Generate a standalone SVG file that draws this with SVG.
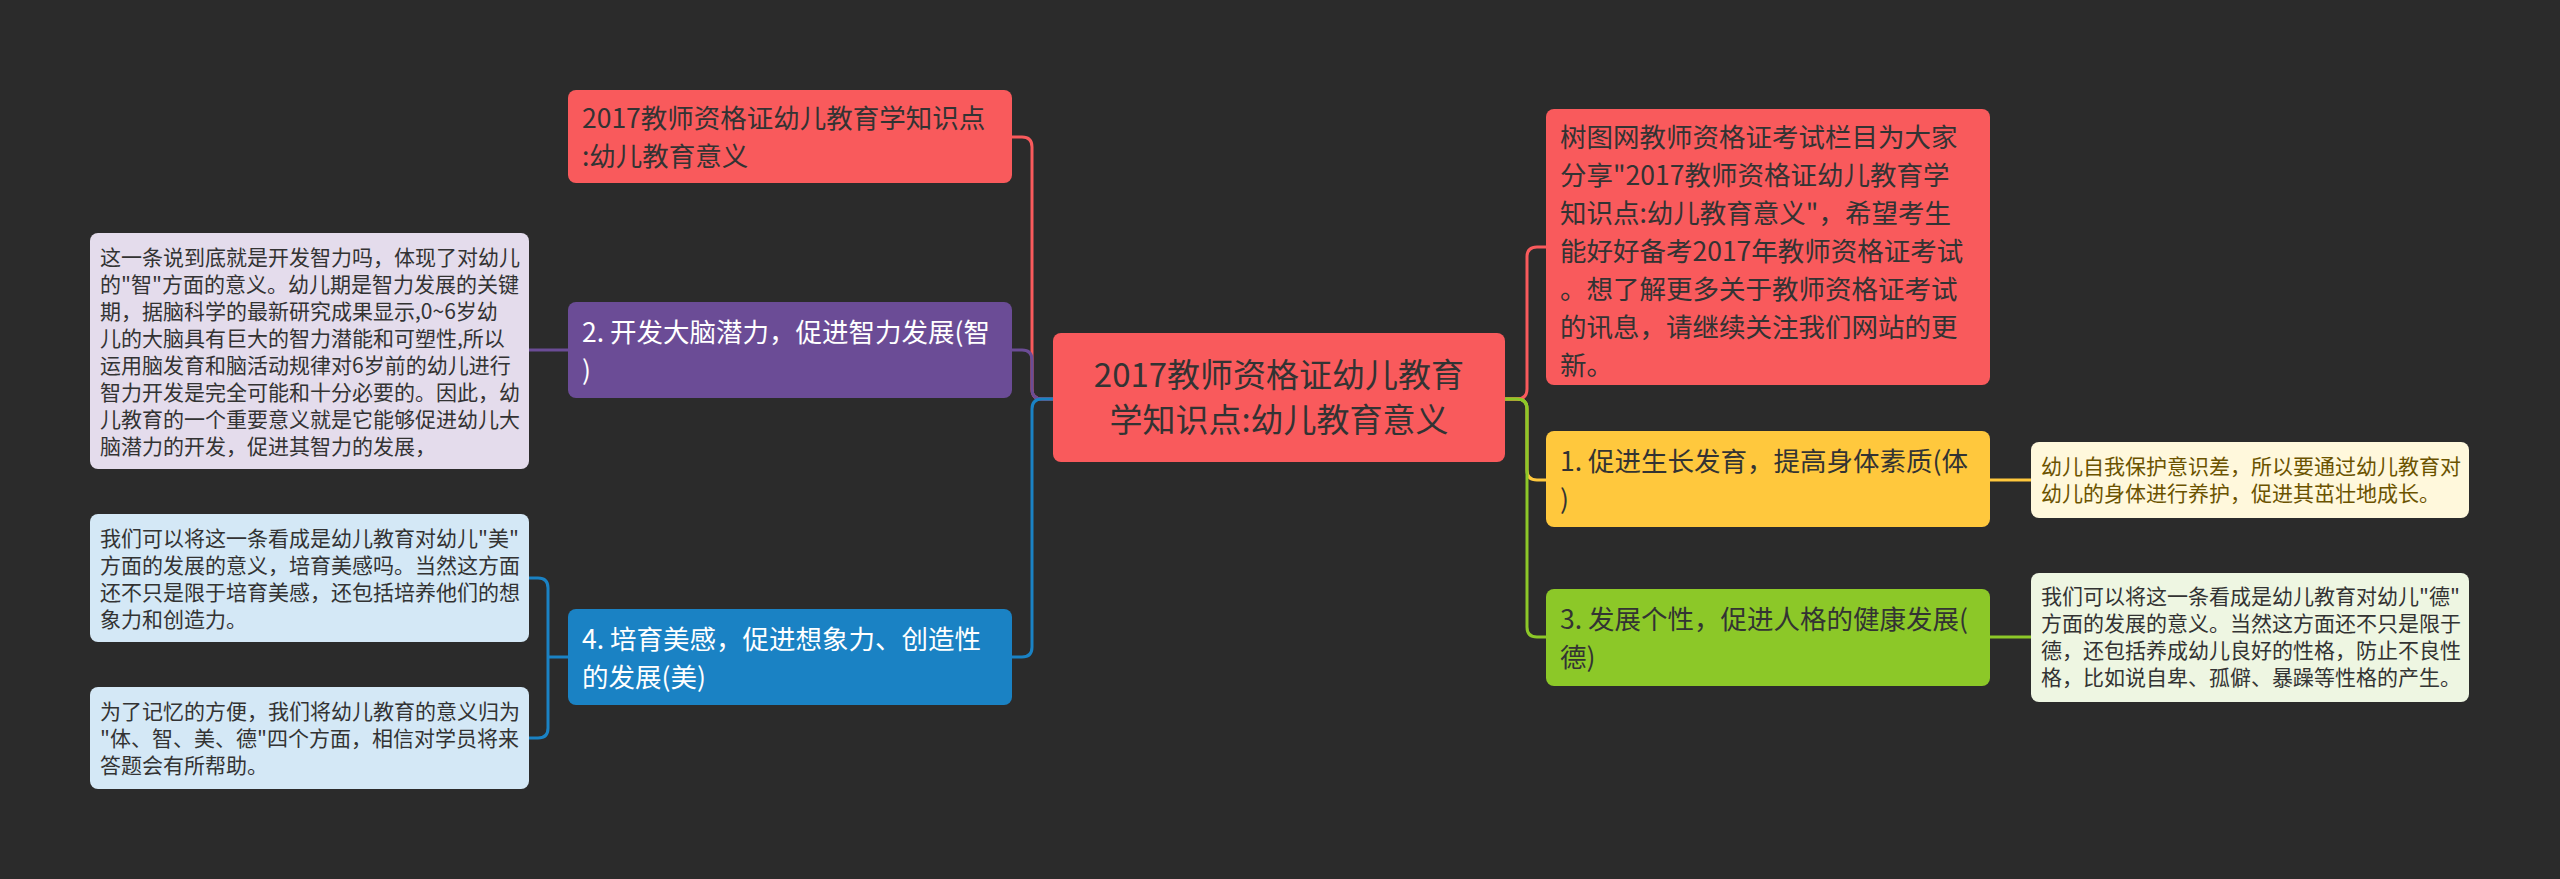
<svg xmlns="http://www.w3.org/2000/svg" width="2560" height="879" viewBox="0 0 2560 879">
<style>
text{font-family:"Noto Sans CJK SC","Noto Sans",sans-serif}
.t1{font-size:26.5px}
.t2{font-size:21px}
.c{fill:none;stroke-width:3}
</style>
<rect width="2560" height="879" fill="#2b2b2b"/>
<g id="connectors">
<path class="c" stroke="#f95a5c" d="M1053 399 H1042 Q1032 399 1032 389 V147 Q1032 137 1022 137 H1012"/>
<path class="c" stroke="#6b4c96" d="M1053 399 H1042 Q1032 399 1032 389 V360 Q1032 350 1022 350 H1012"/>
<path class="c" stroke="#1a82c4" d="M1053 399 H1042 Q1032 399 1032 409 V647 Q1032 657 1022 657 H1012"/>
<path class="c" stroke="#f95a5c" d="M1505 399 H1517 Q1527 399 1527 389 V257 Q1527 247 1537 247 H1546"/>
<path class="c" stroke="#ffc83d" d="M1505 399 H1517 Q1527 399 1527 409 V470 Q1527 480 1537 480 H1546"/>
<path class="c" stroke="#8cc828" d="M1505 399 H1517 Q1527 399 1527 409 V627 Q1527 637 1537 637 H1546"/>
<path class="c" stroke="#6b4c96" d="M568 350 H529"/>
<path class="c" stroke="#1a82c4" d="M568 657 H548 V588 Q548 578 538 578 H529 M548 657 V728 Q548 738 538 738 H529"/>
<path class="c" stroke="#ffc83d" d="M1990 480 H2031"/>
<path class="c" stroke="#8cc828" d="M1990 637 H2031"/>
</g>
<g id="center">
<rect x="1053" y="333" width="452" height="129" rx="8" fill="#f95a5c"/>
<text x="1279" y="387" font-size="33" fill="#333" text-anchor="middle">2017教师资格证幼儿教育</text>
<text x="1279" y="432" font-size="33" fill="#333" text-anchor="middle">学知识点:幼儿教育意义</text>
</g>
<g id="n-title">
<rect x="568" y="90" width="444" height="93" rx="8" fill="#f95a5c"/>
<text class="t1" fill="#333" x="582" y="128">2017教师资格证幼儿教育学知识点</text>
<text class="t1" fill="#333" x="582" y="166">:幼儿教育意义</text>
</g>
<g id="n-zhi">
<rect x="568" y="302" width="444" height="96" rx="8" fill="#6b4c96"/>
<text class="t1" fill="#fff" x="582" y="342">2. 开发大脑潜力，促进智力发展(智</text>
<text class="t1" fill="#fff" x="582" y="380">)</text>
</g>
<g id="n-mei">
<rect x="568" y="609" width="444" height="96" rx="8" fill="#1a82c4"/>
<text class="t1" fill="#fff" x="582" y="649">4. 培育美感，促进想象力、创造性</text>
<text class="t1" fill="#fff" x="582" y="687">的发展(美)</text>
</g>
<g id="note-zhi">
<rect x="90" y="233" width="439" height="236" rx="8" fill="#e4dcec"/>
<text class="t2" fill="#333"><tspan x="100" y="265">这一条说到底就是开发智力吗，体现了对幼儿</tspan><tspan x="100" y="292">的"智"方面的意义。幼儿期是智力发展的关键</tspan><tspan x="100" y="319">期，据脑科学的最新研究成果显示,0~6岁幼</tspan><tspan x="100" y="346">儿的大脑具有巨大的智力潜能和可塑性,所以</tspan><tspan x="100" y="373">运用脑发育和脑活动规律对6岁前的幼儿进行</tspan><tspan x="100" y="400">智力开发是完全可能和十分必要的。因此，幼</tspan><tspan x="100" y="427">儿教育的一个重要意义就是它能够促进幼儿大</tspan><tspan x="100" y="454">脑潜力的开发，促进其智力的发展，</tspan></text>
</g>
<g id="note-mei1">
<rect x="90" y="514" width="439" height="128" rx="8" fill="#d4e8f6"/>
<text class="t2" fill="#333"><tspan x="100" y="546">我们可以将这一条看成是幼儿教育对幼儿"美"</tspan><tspan x="100" y="573">方面的发展的意义，培育美感吗。当然这方面</tspan><tspan x="100" y="600">还不只是限于培育美感，还包括培养他们的想</tspan><tspan x="100" y="627">象力和创造力。</tspan></text>
</g>
<g id="note-mei2">
<rect x="90" y="687" width="439" height="102" rx="8" fill="#d4e8f6"/>
<text class="t2" fill="#333"><tspan x="100" y="719">为了记忆的方便，我们将幼儿教育的意义归为</tspan><tspan x="100" y="746">"体、智、美、德"四个方面，相信对学员将来</tspan><tspan x="100" y="773">答题会有所帮助。</tspan></text>
</g>
<g id="n-intro">
<rect x="1546" y="109" width="444" height="276" rx="8" fill="#f95a5c"/>
<text class="t1" fill="#333"><tspan x="1560" y="147">树图网教师资格证考试栏目为大家</tspan><tspan x="1560" y="185">分享"2017教师资格证幼儿教育学</tspan><tspan x="1560" y="223">知识点:幼儿教育意义"，希望考生</tspan><tspan x="1560" y="261">能好好备考2017年教师资格证考试</tspan><tspan x="1560" y="299">。想了解更多关于教师资格证考试</tspan><tspan x="1560" y="337">的讯息，请继续关注我们网站的更</tspan><tspan x="1560" y="375">新。</tspan></text>
</g>
<g id="n-ti">
<rect x="1546" y="431" width="444" height="96" rx="8" fill="#ffc83d"/>
<text class="t1" fill="#333" x="1560" y="471">1. 促进生长发育，提高身体素质(体</text>
<text class="t1" fill="#333" x="1560" y="509">)</text>
</g>
<g id="n-de">
<rect x="1546" y="589" width="444" height="97" rx="8" fill="#8cc828"/>
<text class="t1" fill="#333" x="1560" y="629">3. 发展个性，促进人格的健康发展(</text>
<text class="t1" fill="#333" x="1560" y="667">德)</text>
</g>
<g id="note-ti">
<rect x="2031" y="442" width="438" height="76" rx="8" fill="#fff8dc"/>
<text class="t2" fill="#6b5300"><tspan x="2041" y="474">幼儿自我保护意识差，所以要通过幼儿教育对</tspan><tspan x="2041" y="501">幼儿的身体进行养护，促进其茁壮地成长。</tspan></text>
</g>
<g id="note-de">
<rect x="2031" y="573" width="438" height="129" rx="8" fill="#eef6e2"/>
<text class="t2" fill="#333"><tspan x="2041" y="604">我们可以将这一条看成是幼儿教育对幼儿"德"</tspan><tspan x="2041" y="631">方面的发展的意义。当然这方面还不只是限于</tspan><tspan x="2041" y="658">德，还包括养成幼儿良好的性格，防止不良性</tspan><tspan x="2041" y="685">格，比如说自卑、孤僻、暴躁等性格的产生。</tspan></text>
</g>
</svg>
